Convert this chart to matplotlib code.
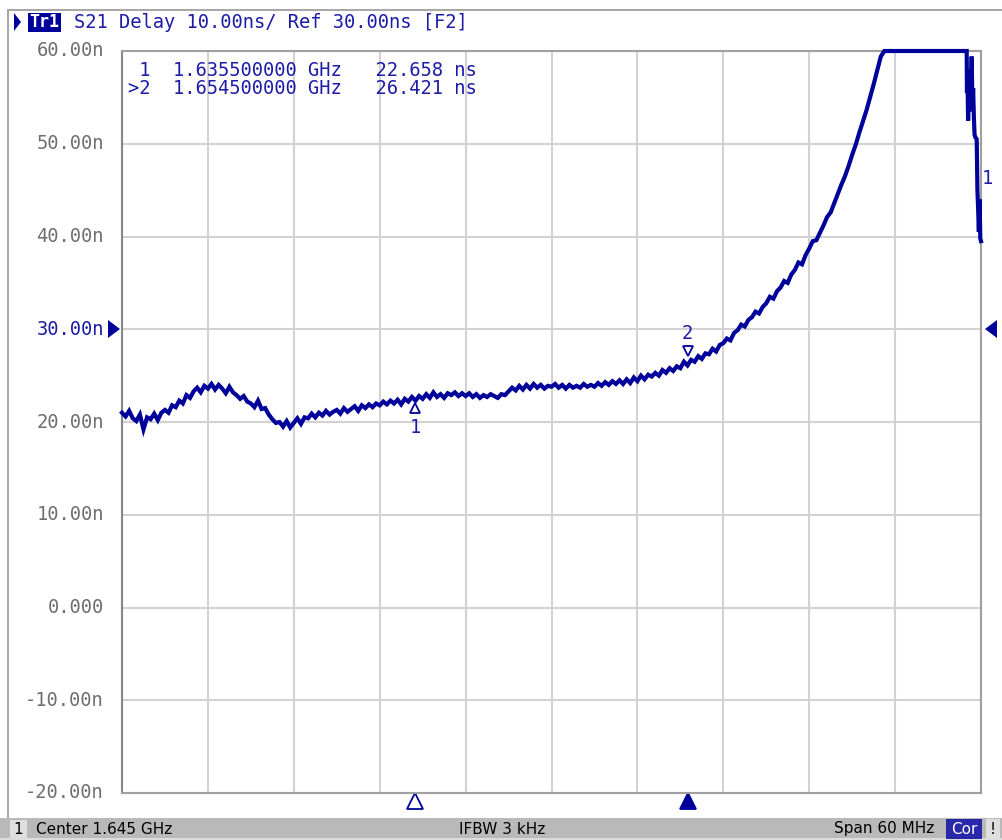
import numpy as np
import matplotlib
matplotlib.use("Agg")
import matplotlib.pyplot as plt
from matplotlib.patches import Rectangle, Polygon
import matplotlib.transforms as mtransforms

# ---------------- data ----------------
f_start_mhz = 1615.0
f_stop_mhz = 1675.0
y_min, y_max = -20.0, 60.0
y_ticks = [60, 50, 40, 30, 20, 10, 0, -10, -20]
y_tick_labels = ["60.00n", "50.00n", "40.00n", "30.00n", "20.00n",
                 "10.00n", "0.000", "-10.00n", "-20.00n"]

# delay (ns) every 0.25 MHz from 1615.00 to 1668.75 MHz
delay_main = [
    21.0, 20.6, 21.2, 20.4,
    20.1, 20.8, 19.2, 20.5,
    20.3, 20.9, 20.2, 21.0,
    21.3, 21.0, 21.8, 21.6,
    22.3, 22.0, 22.9, 22.6,
    23.3, 23.7, 23.2, 23.9,
    23.6, 24.1, 23.5, 24.0,
    23.6, 23.1, 23.8, 23.2,
    22.9, 22.5, 22.8, 22.2,
    22.0, 21.6, 22.3, 21.4,
    21.5, 20.8, 20.3, 19.9,
    20.0, 19.5, 20.1, 19.4,
    19.9, 20.4, 19.8, 20.5,
    20.4, 20.9, 20.5, 21.0,
    20.7, 21.2, 20.8, 21.1,
    21.3, 20.9, 21.5, 21.1,
    21.4, 21.7, 21.2, 21.8,
    21.5, 21.9, 21.6, 22.0,
    21.8, 22.2, 21.9, 22.3,
    22.0, 22.4, 21.9, 22.5,
    22.2, 22.7, 22.3, 22.8,
    22.5, 23.0, 22.6, 23.2,
    22.7, 23.0, 22.6, 23.1,
    22.9, 23.2, 22.8, 23.1,
    22.8, 23.1, 22.7, 23.0,
    22.6, 22.9, 22.7, 23.0,
    22.8, 22.6, 23.0, 22.9,
    23.3, 23.7, 23.4, 23.9,
    23.5, 24.0, 23.6, 24.1,
    23.7, 24.0, 23.6, 23.9,
    23.8, 24.1, 23.7, 24.0,
    23.6, 24.0, 23.7, 23.9,
    23.7, 24.1, 23.8, 24.0,
    23.8, 24.2, 23.9, 24.3,
    24.0, 24.4, 24.1, 24.5,
    24.1, 24.6, 24.2, 24.8,
    24.4, 25.0, 24.6, 25.1,
    24.9, 25.3, 25.0, 25.6,
    25.3, 25.8, 25.5, 26.0,
    25.8, 26.5, 26.1, 26.7,
    26.5, 27.1, 26.8, 27.4,
    27.3, 27.9, 27.6, 28.3,
    28.5, 29.0, 28.8, 29.6,
    29.9, 30.5, 30.3, 31.0,
    31.3, 31.9, 31.7, 32.4,
    32.8, 33.5, 33.3, 34.1,
    34.5, 35.2, 35.0, 35.9,
    36.4, 37.2, 37.0, 38.0,
    38.7, 39.5, 39.6, 40.4,
    41.2, 42.1, 42.6, 43.6,
    44.6, 45.6, 46.5, 47.6,
    48.8, 49.9, 51.2, 52.4,
    53.6, 55.0, 56.4, 57.9,
    59.4, 61.0, 62.5, 64.0,
]
# off-screen section and band edge (MHz offset from start, ns)
tail_offset = [54.0, 55.0, 56.0, 57.0, 58.0, 59.0,
               59.02, 59.05, 59.1, 59.15, 59.2, 59.25, 59.3, 59.35, 59.4,
               59.45, 59.5, 59.55, 59.6, 59.7, 59.75, 59.8, 59.85, 59.9,
               59.95, 60.0]
tail_delay = [66.0, 69.0, 72.0, 75.0, 78.0, 80.0,
              55.5, 57.5, 52.5, 56.5, 53.5, 58.0, 55.0, 59.4, 54.0,
              56.0, 53.0, 51.0, 50.7, 50.5, 45.0, 43.0, 40.5, 44.0,
              39.8, 39.5]

marker_freq_ghz = [1.6355, 1.6545]
marker_delay_ns = [22.658, 26.421]
ref_level = 30.0

# ---------------- figure ----------------
W, H = 1002, 840
fig = plt.figure(figsize=(W / 100, H / 100), dpi=100, facecolor="white")

def fx(x):
    return x / W

def fy(y):
    return 1 - y / H

navy = "#00009a"
txt_blue = "#1c1ca8"
mono = "DejaVu Sans Mono"
FS = 13.5

# window borders
fig.add_artist(Rectangle((fx(7), fy(818)), fx(2), fy(10) - fy(818),
                         transform=fig.transFigure, color="#a8a8a8", lw=0))
fig.add_artist(Rectangle((fx(7), fy(11)), 1, fy(9) - fy(11),
                         transform=fig.transFigure, color="#a8a8a8", lw=0))

# ---------------- axes ----------------
L, R, T, B = 122, 981, 51, 793
ax = fig.add_axes([fx(L), fy(B), (R - L) / W, (B - T) / H])
ax.set_xlim(f_start_mhz, f_stop_mhz)
ax.set_ylim(y_min, y_max)
ax.set_xticks(np.linspace(f_start_mhz, f_stop_mhz, 11))
ax.set_yticks(y_ticks)
ax.tick_params(length=0, labelbottom=False, labelleft=False)
ax.grid(True, color="#d2d2d2", lw=1.5)
for s in ax.spines.values():
    s.set_color("#a0a0a0")
    s.set_linewidth(1.5)
ax.spines["left"].set_color("#888888")

freqs = [f_start_mhz + 0.25 * i for i in range(len(delay_main))]
freqs += [f_start_mhz + o for o in tail_offset]
delays = list(delay_main) + list(tail_delay)
ax.plot(freqs, np.clip(delays, y_min, y_max), color=navy, lw=3.0,
        solid_joinstyle="miter", clip_on=False, zorder=3)

# y labels
for v, lab in zip(y_ticks, y_tick_labels):
    ax.text(-0.021, (v - y_min) / (y_max - y_min), lab,
            transform=ax.transAxes, ha="right", va="center",
            family=mono, fontsize=FS,
            color=(txt_blue if v == ref_level else "#6e6e6e"))

# ref level triangles
fig.add_artist(Polygon([[fx(108), fy(320)], [fx(108), fy(338)], [fx(120), fy(329)]],
                       closed=True, transform=fig.transFigure, color=navy, lw=0))
fig.add_artist(Polygon([[fx(997), fy(320)], [fx(997), fy(338)], [fx(985), fy(329)]],
                       closed=True, transform=fig.transFigure, color=navy, lw=0))

# markers on trace
for i, (fg, d) in enumerate(zip(marker_freq_ghz, marker_delay_ns)):
    fm = fg * 1000
    if i == 0:
        tr = mtransforms.offset_copy(ax.transData, fig=fig, x=0, y=-11, units="dots")
        ax.plot([fm], [d], marker="^", ms=7, mfc="white", mec=navy, mew=1.3,
                transform=tr, zorder=4)
        ax.annotate("1", (fm, d), xytext=(0, -21), textcoords="offset pixels",
                    ha="center", va="top", family=mono, fontsize=FS, color=txt_blue)
    else:
        tr = mtransforms.offset_copy(ax.transData, fig=fig, x=0, y=11, units="dots")
        ax.plot([fm], [d], marker="v", ms=7, mfc="white", mec=navy, mew=1.3,
                transform=tr, zorder=4)
        ax.annotate("2", (fm, d), xytext=(0, 19), textcoords="offset pixels",
                    ha="center", va="bottom", family=mono, fontsize=FS, color=txt_blue)

# stimulus markers at bottom
trb = mtransforms.blended_transform_factory(ax.transData, fig.transFigure)
ax.plot([marker_freq_ghz[0] * 1000], [fy(801)], marker="^", ms=11, mfc="white",
        mec=navy, mew=1.3, transform=trb, clip_on=False)
ax.plot([marker_freq_ghz[1] * 1000], [fy(801)], marker="^", ms=11, mfc=navy,
        mec=navy, mew=1.3, transform=trb, clip_on=False)

# right-edge trace label
fig.text(fx(987), fy(179), "1", family=mono, fontsize=FS, color=txt_blue,
         ha="center", va="center")

# marker readout
fig.text(fx(128), fy(70), " 1  1.635500000 GHz   22.658 ns", family=mono,
         fontsize=FS, color=txt_blue, ha="left", va="center")
fig.text(fx(128), fy(89), ">2  1.654500000 GHz   26.421 ns", family=mono,
         fontsize=FS, color=txt_blue, ha="left", va="center")

# title line
fig.add_artist(Polygon([[fx(14), fy(13)], [fx(14), fy(31)], [fx(21), fy(22)]],
                       closed=True, transform=fig.transFigure, color=navy, lw=0))
fig.add_artist(Rectangle((fx(28), fy(32)), fx(33), fy(13) - fy(32),
                         transform=fig.transFigure, color=navy, lw=0))
fig.text(fx(44.5), fy(22), "Tr1", family=mono, fontsize=12, color="white",
         ha="center", va="center", fontweight="bold")
fig.text(fx(74), fy(22), "S21 Delay 10.00ns/ Ref 30.00ns [F2]", family=mono,
         fontsize=FS, color=txt_blue, ha="left", va="center")

# status bar
fig.add_artist(Rectangle((0, 0), 1, fy(818), transform=fig.transFigure,
                         color="#b9b9b9", lw=0))
fig.add_artist(Rectangle((fx(0), fy(840)), 1, fy(817) - fy(819),
                         transform=fig.transFigure, color="#dcdcdc", lw=0))
fig.add_artist(Rectangle((fx(10), fy(838)), fx(17), fy(820) - fy(838),
                         transform=fig.transFigure, color="#dedede", lw=0))
SB = 11
fig.text(fx(18.5), fy(829), "1", fontsize=SB, family="DejaVu Sans",
         ha="center", va="center", color="black")
fig.text(fx(36), fy(829), "Center 1.645 GHz", fontsize=SB, family="DejaVu Sans",
         ha="left", va="center", color="black")
fig.text(fx(502), fy(829), "IFBW 3 kHz", fontsize=SB, family="DejaVu Sans",
         ha="center", va="center", color="black")
fig.text(fx(934), fy(829), "Span 60 MHz", fontsize=SB, family="DejaVu Sans",
         ha="right", va="center", color="black")
fig.add_artist(Rectangle((fx(946), fy(839)), fx(36), fy(819) - fy(839),
                         transform=fig.transFigure, color="#2828a8", lw=0))
fig.text(fx(964), fy(829), "Cor", fontsize=SB, family="DejaVu Sans",
         ha="center", va="center", color="white")
fig.add_artist(Rectangle((fx(986), fy(839)), fx(14), fy(819) - fy(839),
                         transform=fig.transFigure, color="#dedede", lw=0))
fig.text(fx(993), fy(829), "!", fontsize=SB, family="DejaVu Sans",
         ha="center", va="center", color="black")

fig.savefig("out.png", dpi=100, facecolor="white")
